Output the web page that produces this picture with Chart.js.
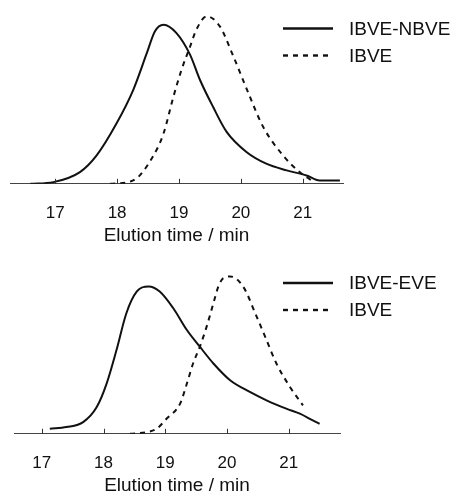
<!DOCTYPE html>
<html>
<head>
<meta charset="utf-8">
<script src="https://cdn.jsdelivr.net/npm/chart.js@4.4.1/dist/chart.umd.min.js"></script>
<style>
    html, body { margin: 0; padding: 0; background: #fff; overflow: hidden; }
    .panel { width: 461px; height: 250px; }
    canvas { display: block; }
</style>
</head>
<body>
<div class="panel"><canvas id="chart-top" width="461" height="250"></canvas></div>
<div class="panel"><canvas id="chart-bottom" width="461" height="250"></canvas></div>
<script>
const xTicks = [17, 18, 19, 20, 21];
const axisTitle = 'Elution time / min';

// top panel: IBVE-NBVE copolymer vs IBVE
const topCopolymerLabel = 'IBVE-NBVE';
const topCopolymerTime   = [16.60, 16.97, 17.40, 17.67, 17.99, 18.26, 18.48, 18.61, 18.75, 18.96, 19.18, 19.34, 19.55, 19.77, 20.09, 20.41, 20.74, 21.06, 21.27, 21.60];
const topCopolymerSignal = [0.00, 0.01, 0.07, 0.17, 0.36, 0.56, 0.78, 0.91, 0.95, 0.90, 0.77, 0.62, 0.46, 0.31, 0.19, 0.12, 0.08, 0.05, 0.02, 0.02];
const topHomoTime   = [17.89, 18.26, 18.59, 18.75, 18.91, 19.04, 19.18, 19.28, 19.45, 19.66, 19.88, 20.09, 20.36, 20.68, 20.95, 21.14];
const topHomoSignal = [0.00, 0.02, 0.17, 0.30, 0.52, 0.68, 0.82, 0.92, 1.00, 0.94, 0.76, 0.57, 0.34, 0.17, 0.07, 0.02];

// bottom panel: IBVE-EVE copolymer vs IBVE
const bottomCopolymerLabel = 'IBVE-EVE';
const bottomCopolymerTime   = [17.13, 17.40, 17.67, 17.89, 18.05, 18.21, 18.37, 18.54, 18.73, 18.91, 19.13, 19.35, 19.56, 19.78, 20.05, 20.37, 20.64, 20.96, 21.18, 21.39, 21.50];
const bottomCopolymerSignal = [0.03, 0.04, 0.07, 0.16, 0.30, 0.50, 0.72, 0.85, 0.88, 0.85, 0.75, 0.62, 0.52, 0.42, 0.32, 0.25, 0.20, 0.15, 0.12, 0.08, 0.06];
const bottomHomoTime   = [18.43, 18.70, 18.86, 19.02, 19.24, 19.35, 19.45, 19.56, 19.67, 19.78, 19.86, 19.94, 20.05, 20.26, 20.48, 20.64, 20.80, 21.02, 21.23];
const bottomHomoSignal = [0.00, 0.01, 0.03, 0.09, 0.18, 0.30, 0.42, 0.52, 0.64, 0.78, 0.88, 0.93, 0.94, 0.88, 0.70, 0.56, 0.42, 0.28, 0.17];

const homoLabel = 'IBVE';
const ink = '#111';
const fontFamily = '"Liberation Sans", Arial, Helvetica, sans-serif';

Chart.defaults.font.family = fontFamily;
Chart.defaults.color = ink;

function toPoints(times, values) {
    return times.map((t, i) => ({ x: t, y: values[i] }));
}

// inward tick marks + legend drawn at top right
const decorPlugin = {
    id: 'decor',
    afterDraw(chart, args, opts) {
        const ctx = chart.ctx;
        const xScale = chart.scales.x;
        const base = chart.chartArea.bottom;

        ctx.save();
        ctx.strokeStyle = '#333';
        ctx.lineWidth = 1;
        xScale.ticks.forEach(t => {
            const px = Math.round(xScale.getPixelForValue(t.value)) + 0.5;
            ctx.beginPath();
            ctx.moveTo(px, base);
            ctx.lineTo(px, base - 5);
            ctx.stroke();
        });

        ctx.font = '19px ' + fontFamily;
        ctx.textBaseline = 'middle';
        ctx.fillStyle = ink;
        chart.data.datasets.forEach((ds, i) => {
            const y = opts.top + i * opts.rowGap;
            ctx.beginPath();
            ctx.setLineDash(ds.borderDash || []);
            ctx.lineWidth = 2.4;
            ctx.strokeStyle = ds.borderColor;
            ctx.moveTo(opts.lineStart, y);
            ctx.lineTo(opts.lineEnd, y);
            ctx.stroke();
            ctx.setLineDash([]);
            ctx.fillText(ds.label, opts.textX, y + 1);
        });
        ctx.restore();
    }
};

function makeChart(canvasId, cfg) {
    const ctx = document.getElementById(canvasId);
    if (!ctx) return null;

    return new Chart(ctx, {
        type: 'line',
        data: {
            datasets: [
                {
                    label: cfg.copolymerLabel,
                    data: toPoints(cfg.copolymerTime, cfg.copolymerSignal),
                    borderColor: ink,
                    borderWidth: 2,
                    pointRadius: 0,
                    cubicInterpolationMode: 'monotone'
                },
                {
                    label: homoLabel,
                    data: toPoints(cfg.homoTime, cfg.homoSignal),
                    borderColor: ink,
                    borderWidth: 2,
                    borderDash: [5, 5],
                    pointRadius: 0,
                    cubicInterpolationMode: 'monotone'
                }
            ]
        },
        options: {
            responsive: false,
            animation: false,
            layout: {
                padding: { left: cfg.areaLeft, right: 461 - cfg.areaRight, top: 8, bottom: 0 }
            },
            scales: {
                x: {
                    type: 'linear',
                    min: cfg.xMin,
                    max: cfg.xMax,
                    afterBuildTicks: scale => {
                        scale.ticks = xTicks.map(v => ({ value: v }));
                    },
                    ticks: {
                        color: ink,
                        font: { size: 17 },
                        padding: 19,
                        maxRotation: 0,
                        autoSkip: false
                    },
                    grid: { drawOnChartArea: false, drawTicks: false },
                    border: { color: '#444', width: 1 },
                    title: {
                        display: true,
                        text: axisTitle,
                        color: ink,
                        font: { size: 19 },
                        // negative top pulls the title up close to the tick labels
                        padding: { top: -18, bottom: 3 }
                    }
                },
                y: {
                    display: false,
                    min: 0,
                    max: 1.05
                }
            },
            plugins: {
                legend: { display: false },
                tooltip: { enabled: false },
                decor: cfg.legend
            }
        },
        plugins: [decorPlugin]
    });
}

makeChart('chart-top', {
    copolymerLabel: topCopolymerLabel,
    copolymerTime: topCopolymerTime,
    copolymerSignal: topCopolymerSignal,
    homoTime: topHomoTime,
    homoSignal: topHomoSignal,
    xMin: 16.27,
    xMax: 21.65,
    areaLeft: 10,
    areaRight: 343,
    legend: { top: 28.5, rowGap: 27, lineStart: 283, lineEnd: 333, textX: 349 }
});

makeChart('chart-bottom', {
    copolymerLabel: bottomCopolymerLabel,
    copolymerTime: bottomCopolymerTime,
    copolymerSignal: bottomCopolymerSignal,
    homoTime: bottomHomoTime,
    homoSignal: bottomHomoSignal,
    xMin: 16.55,
    xMax: 21.83,
    areaLeft: 14,
    areaRight: 340,
    legend: { top: 33, rowGap: 27, lineStart: 283, lineEnd: 333, textX: 349 }
});
</script>
</body>
</html>
